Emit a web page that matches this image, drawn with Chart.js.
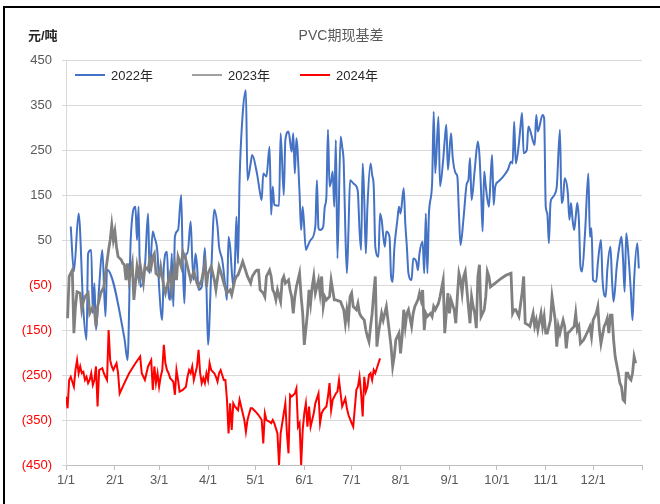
<!DOCTYPE html>
<html>
<head>
<meta charset="utf-8">
<script src="https://cdn.jsdelivr.net/npm/chart.js@4/dist/chart.umd.min.js"></script>
<style>
  body { margin: 0; background: #fff; }
  #wrap { position: relative; width: 660px; height: 504px; overflow: hidden; font-family: "Liberation Sans", "Noto Sans CJK SC", sans-serif; }
  #frame { position: absolute; left: 3px; top: 6px; width: 670px; height: 510px; border-top: 2px solid #000; border-left: 2px solid #000; }
  #unit { position: absolute; left: 28px; top: 25px; font-size: 13px; font-weight: bold; color: #262626; }
  #title { position: absolute; left: 241px; width: 200px; top: 24px; text-align: center; font-size: 14px; color: #595959; }
  .leg { position: absolute; top: 65px; font-size: 13px; color: #262626; white-space: nowrap; }
  .leg i { display: inline-block; width: 30px; height: 2px; vertical-align: middle; margin-right: 6px; position: relative; top: -2px; }
</style>
</head>
<body>
<div id="wrap">
  <canvas id="basisChart" width="660" height="504"></canvas>
  <div id="frame"></div>
  <div id="unit">元/吨</div>
  <div id="title">PVC期现基差</div>
  <div class="leg" style="left:75px"><i style="background:#4472C4"></i>2022年</div>
  <div class="leg" style="left:192px"><i style="background:#a0a0a0"></i>2023年</div>
  <div class="leg" style="left:300px"><i style="background:#FF0000"></i>2024年</div>
</div>
<script>
// 横轴: 每月1日 (按年内天数)
const monthDays = [0, 31, 59, 90, 120, 151, 181, 212, 243, 273, 304, 334, 365];
const monthLabels = ['1/1', '2/1', '3/1', '4/1', '5/1', '6/1', '7/1', '8/1', '9/1', '10/1', '11/1', '12/1', ''];

// 2022年 基差 (元/吨)
const days2022 = [3,5,8,11,13,14,16,17,18,19,21,23,25,26,37,39,41,44,45,46,47,50,52,53,55,56,58,59,61,62,64,65,66,67,68,69,71,73,74,75,76,77,79,80,81,82,83,84,86,87,88,89,90,92,94,96,97,99,101,102,103,104,106,107,108,109,110,112,114,115,117,118,121,123,124,125,127,129,130,131,132,135,136,138,139,141,143,144,145,146,148,149,150,152,153,155,158,159,160,161,163,164,165,166,167,168,169,170,171,172,174,175,176,177,178,179,180,182,184,185,186,187,188,189,190,191,193,194,195,196,198,199,200,202,203,205,206,207,208,210,211,212,214,215,216,217,219,220,222,223,224,226,227,228,229,230,232,233,234,236,237,239,240,241,242,244,245,247,248,249,250,252,254,255,256,257,259,261,262,263,264,265,266,268,269,270,271,272,274,277,280,282,283,284,285,287,288,289,290,292,293,294,296,297,298,299,302,303,304,305,306,307,308,310,311,313,314,315,316,318,319,320,321,322,323,324,325,326,327,329,331,332,333,334,336,337,339,340,342,343,345,346,347,349,351,352,353,354,355,356,358,359,360,362,363];
const vals2022 = [80,-20,109,-105,-172,20,28,-113,-46,-150,-54,28,-120,-16,-168,-217,50,124,50,124,-54,-9,109,-24,69,57,20,-54,-128,-9,24,-68,-83,20,-98,57,72,150,-2,-91,20,20,91,6,-39,20,-5,-61,-54,-17,32,-54,-183,-24,117,80,35,6,-54,-83,57,35,-54,-9,102,-2,183,332,383,183,220,239,198,154,139,198,191,257,106,169,128,126,287,150,272,291,246,287,198,276,154,72,124,28,35,50,80,183,76,72,80,124,146,295,169,180,202,124,272,9,280,257,220,72,-24,72,183,176,169,154,72,28,220,139,20,124,220,194,169,35,13,109,95,35,69,57,-31,-43,28,95,124,109,165,87,35,-24,-39,9,2,-17,20,46,-24,109,-24,109,176,335,198,324,169,228,272,306,206,287,235,198,191,109,39,102,176,183,232,139,206,269,239,161,69,202,169,124,183,239,128,169,180,191,206,224,220,313,220,265,302,332,243,250,302,295,269,261,328,291,328,320,124,109,43,132,143,154,169,295,132,143,187,154,95,132,95,72,102,132,95,-9,-20,72,198,57,76,-39,-43,-2,50,-39,-76,-17,35,-39,-87,-9,43,57,6,-65,65,35,-68,-128,-39,43,-13];

// 2023年 基差
const days2023 = [1,2,4,5,6,7,9,10,11,12,14,15,17,18,19,20,22,24,25,27,28,29,30,31,32,33,35,36,37,38,39,40,42,43,45,46,47,49,50,52,53,54,55,56,57,59,60,62,63,65,66,67,69,70,71,73,74,76,77,78,79,81,83,84,86,88,89,90,92,94,95,97,98,100,102,104,105,107,108,109,111,112,113,115,117,118,120,121,122,123,125,126,127,129,130,131,132,133,134,136,137,138,139,141,142,143,144,145,146,148,149,150,151,153,154,155,156,157,158,160,161,162,163,164,165,167,168,170,171,174,176,177,178,179,180,181,182,184,185,186,187,189,190,191,192,193,194,195,196,197,198,200,201,203,205,206,207,208,209,211,212,213,214,215,216,217,219,220,221,223,224,225,226,227,228,229,231,232,233,234,236,237,239,240,242,243,244,246,247,248,249,250,251,252,253,255,256,257,258,259,260,261,262,263,265,266,267,268,269,273,276,279,282,283,284,285,287,289,290,291,293,294,296,297,298,299,301,302,303,304,305,307,308,310,311,312,313,315,316,317,318,320,321,322,323,324,325,326,328,329,331,332,333,334,336,337,338,339,341,342,343,344,345,346,347,348,350,351,352,353,354,355,356,357,358,359,360,361];
const vals2023 = [-124,-31,-17,-157,-98,-65,-68,-105,-87,-76,-68,-113,-98,-105,-142,-98,-68,-54,-24,28,50,83,50,69,35,13,6,-2,-5,-39,-2,-39,-2,-83,-9,-31,-5,-46,-9,-17,6,-9,13,20,-24,-31,-9,-54,-68,-39,-24,-61,-9,-39,13,-9,24,6,-9,-24,-39,-20,-46,-54,-39,-2,-54,-24,-9,-39,-61,-9,-20,-46,-68,-61,-72,-39,-31,-28,-9,2,-9,-31,-46,-31,-20,-17,-17,-61,-68,-76,-31,-17,-31,-61,-68,-83,-61,-87,-39,-31,-46,-39,-61,-76,-113,-76,-54,-24,-76,-113,-183,-113,-61,-91,-54,-31,-68,-39,-68,-31,-98,-76,-83,-76,-39,-83,-83,-87,-105,-135,-105,-128,-76,-68,-98,-105,-91,-113,-120,-128,-150,-165,-176,-142,-113,-68,-31,-187,-157,-113,-128,-98,-157,-187,-231,-209,-172,-157,-202,-165,-105,-142,-113,-105,-142,-113,-98,-83,-68,-83,-61,-150,-113,-120,-113,-120,-98,-105,-91,-76,-39,-157,-68,-113,-83,-105,-135,-76,-24,-39,-68,-31,-20,-98,-135,-76,-98,-113,-146,-31,-5,-120,-105,-76,-20,-31,-54,-43,-35,-28,-24,-113,-105,-105,-120,-68,-31,-135,-139,-142,-113,-142,-128,-150,-113,-142,-120,-157,-157,-128,-76,-128,-187,-142,-157,-128,-142,-191,-157,-150,-146,-142,-113,-150,-142,-180,-172,-165,-150,-142,-165,-128,-113,-98,-150,-180,-142,-135,-124,-157,-117,-117,-172,-209,-246,-268,-276,-305,-309,-246,-246,-257,-261,-246,-209,-224];

// 2024年 基差
const days2024 = [0,1,2,3,4,5,6,7,8,9,10,11,12,13,14,15,16,17,18,19,20,21,23,24,25,26,27,28,29,30,31,32,33,34,37,40,44,47,48,50,51,52,54,55,56,57,58,59,60,61,62,63,64,65,66,67,68,69,70,71,72,74,76,77,78,79,80,81,83,84,85,86,87,88,89,90,91,92,94,95,96,97,98,100,101,102,103,104,105,106,107,109,110,112,113,114,115,117,118,120,122,124,125,126,127,129,130,131,132,134,135,136,138,139,140,141,142,143,145,146,147,148,149,150,151,152,153,154,155,157,158,160,161,162,163,165,166,167,168,169,171,172,173,175,177,178,179,181,182,184,185,186,187,188,189,190,191,192,193,194,195,196,198,199];
const vals2024 = [-298,-324,-261,-254,-265,-276,-239,-217,-246,-231,-246,-243,-261,-254,-268,-261,-246,-272,-261,-231,-320,-239,-235,-246,-254,-261,-150,-217,-231,-239,-231,-224,-246,-291,-268,-246,-224,-209,-246,-261,-246,-231,-217,-283,-231,-268,-246,-276,-254,-239,-183,-224,-239,-246,-257,-261,-265,-294,-239,-261,-287,-283,-276,-254,-239,-246,-231,-261,-231,-194,-246,-268,-257,-268,-246,-261,-224,-239,-246,-254,-265,-246,-239,-261,-261,-305,-380,-313,-372,-313,-320,-328,-305,-335,-350,-376,-350,-324,-324,-331,-339,-350,-402,-335,-350,-354,-357,-350,-357,-380,-450,-380,-335,-313,-380,-424,-294,-298,-291,-280,-365,-357,-450,-372,-335,-313,-365,-320,-365,-335,-313,-291,-357,-335,-328,-320,-298,-268,-328,-305,-291,-287,-261,-320,-302,-324,-339,-357,-365,-283,-276,-254,-291,-342,-254,-287,-276,-250,-246,-261,-239,-246,-224,-213];

function toPoints(days, vals) {
    return days.map((d, i) => ({ x: d, y: vals[i] }));
}

const tickFont = { family: '"Liberation Sans", "Noto Sans CJK SC", sans-serif', size: 13 };

new Chart(document.getElementById('basisChart'), {
    type: 'line',
    data: {
        datasets: [{
            label: '2022年',
            data: toPoints(days2022, vals2022),
            borderColor: '#4472C4',
            borderWidth: 2,
            cubicInterpolationMode: 'monotone', // 2022 线略平滑
            order: 3
        }, {
            label: '2023年',
            data: toPoints(days2023, vals2023),
            borderColor: '#808080',
            borderWidth: 2.8,
            tension: 0,
            order: 2
        }, {
            label: '2024年',
            data: toPoints(days2024, vals2024),
            borderColor: '#FF0000',
            borderWidth: 2,
            tension: 0,
            order: 1
        }]
    },
    options: {
        responsive: false,
        animation: false,
        elements: { point: { radius: 0 } },
        layout: { padding: { top: 60, right: 18, left: 0, bottom: 0 } },
        plugins: {
            legend: { display: false },
            title: { display: false },
            tooltip: { enabled: false }
        },
        scales: {
            x: {
                type: 'linear',
                min: 0,
                max: 365,
                afterBuildTicks: (scale) => {
                    scale.ticks = monthDays.map(v => ({ value: v }));
                },
                afterFit: (scale) => { scale.height = 39; },
                grid: { drawOnChartArea: false, drawTicks: true, tickLength: 5, color: '#bfbfbf' },
                border: { color: '#bfbfbf' },
                ticks: {
                    autoSkip: false,
                    maxRotation: 0,
                    padding: 3,
                    color: '#595959',
                    font: tickFont,
                    callback: (v) => monthLabels[monthDays.indexOf(v)]
                }
            },
            y: {
                min: -450,
                max: 450,
                afterFit: (scale) => { scale.width = 66; },
                grid: { color: '#d9d9d9', tickLength: 4 },
                border: { color: '#d9d9d9' },
                ticks: {
                    stepSize: 100,
                    padding: 10,
                    font: tickFont,
                    color: (ctx) => ctx.tick.value < 0 ? '#FF0000' : '#595959',
                    callback: (v) => v < 0 ? '(' + (-v) + ')' : String(v)
                }
            }
        }
    }
});
</script>
</body>
</html>
